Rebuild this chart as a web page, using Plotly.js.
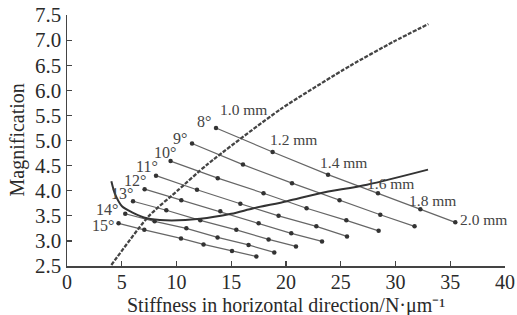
<!DOCTYPE html>
<html>
<head>
<meta charset="utf-8">
<script src="https://cdn.plot.ly/plotly-3.0.1.min.js"></script>
<style>html,body{margin:0;padding:0;background:#fff;}#chart{width:517px;height:315px;}</style>
</head>
<body>
<div id="chart"></div>
<script>
// Groove angle lines (points at 1.0,1.2,...,2.0 mm)
const angles = ["8°", "9°", "10°", "11°", "12°", "13°", "14°", "15°"];
const mmLabels = ["1.0 mm", "1.2 mm", "1.4 mm", "1.6 mm", "1.8 mm", "2.0 mm"];

const stiff8  = [13.61, 18.78, 23.84, 28.40, 32.27, 35.46];
const mag8    = [5.25, 4.77, 4.32, 3.95, 3.63, 3.37];
const stiff9  = [11.42, 16.07, 20.55, 24.89, 28.61, 31.74];
const mag9    = [4.94, 4.52, 4.15, 3.81, 3.52, 3.29];
const stiff10 = [9.46, 13.77, 17.95, 21.88, 25.51, 28.46];
const mag10   = [4.59, 4.25, 3.95, 3.65, 3.41, 3.20];
const stiff11 = [8.13, 11.87, 15.83, 19.32, 22.77, 25.57];
const mag11   = [4.30, 4.02, 3.74, 3.50, 3.29, 3.09];
const stiff12 = [7.09, 10.44, 14.00, 17.50, 20.48, 23.29];
const mag12   = [4.03, 3.81, 3.59, 3.35, 3.15, 2.99];
const stiff13 = [6.03, 9.07, 12.17, 15.46, 18.41, 20.91];
const mag13   = [3.79, 3.61, 3.41, 3.22, 3.03, 2.89];
const stiff14 = [5.32, 8.00, 10.90, 13.75, 16.58, 18.93];
const mag14   = [3.54, 3.39, 3.25, 3.07, 2.92, 2.77];
const stiff15 = [4.71, 7.06, 10.41, 12.47, 15.07, 17.29];
const mag15   = [3.35, 3.22, 3.05, 2.93, 2.80, 2.69];

// Dashed curve
const dashX = [4.05, 7.45, 10.19, 12.79, 19.48, 25.87, 29.83, 33.0];
const dashY = [2.52, 3.49, 4.02, 4.52, 5.62, 6.49, 6.97, 7.32];
// Solid curve
const solidX = [4.05, 4.41, 5.02, 5.94, 7.3, 9.0, 12.17, 15.0, 17.04, 20.1, 23.13, 27.4, 32.97];
const solidY = [4.19, 3.92, 3.69, 3.57, 3.45, 3.41, 3.44, 3.54, 3.65, 3.79, 3.95, 4.12, 4.42];

const xTicks = [0, 5, 10, 15, 20, 25, 30, 35, 40];
const yTicks = [2.5, 3.0, 3.5, 4.0, 4.5, 5.0, 5.5, 6.0, 6.5, 7.0, 7.5];
const xTitle = 'Stiffness in horizontal direction/N·μm⁻¹';
const yTitle = 'Magnification';

const lines = [
  [stiff8, mag8], [stiff9, mag9], [stiff10, mag10], [stiff11, mag11],
  [stiff12, mag12], [stiff13, mag13], [stiff14, mag14], [stiff15, mag15]
];

const traces = [];
lines.forEach((l, i) => {
  traces.push({
    x: l[0], y: l[1], type: 'scatter', mode: 'lines+markers', name: angles[i],
    line: {color: '#666', width: 1.2},
    marker: {color: '#333', size: 4.5},
    hoverinfo: 'x+y'
  });
});
traces.push({
  x: dashX, y: dashY, type: 'scatter', mode: 'lines',
  line: {color: '#444', width: 2.3, dash: '4px,1.5px', shape: 'spline', smoothing: 0.6}
});
traces.push({
  x: solidX, y: solidY, type: 'scatter', mode: 'lines',
  line: {color: '#333', width: 2, shape: 'spline', smoothing: 0.8}
});

const font = 'Liberation Serif, Times New Roman, serif';
const annotations = [];
const angShift = [[-3, 6], [-3, 5], [7, 9], [4, 9], [3, 9], [2, 8], [-5, 4], [-3, -2]];
lines.forEach((l, i) => {
  annotations.push({
    x: l[0][0], y: l[1][0], xref: 'x', yref: 'y', text: angles[i], showarrow: false,
    xanchor: 'right', yanchor: 'middle', xshift: angShift[i][0], yshift: angShift[i][1],
    font: {family: font, size: 16, color: '#444'}
  });
});
const mmShift = [[2, 18], [-5, 13], [-10, 12], [-13, 10], [-13, 9], [3, 3]];
mmLabels.forEach((t, j) => {
  annotations.push({
    x: stiff8[j], y: mag8[j], xref: 'x', yref: 'y', text: t, showarrow: false,
    xanchor: 'left', yanchor: 'middle', xshift: mmShift[j][0], yshift: mmShift[j][1],
    font: {family: font, size: 15.5, color: '#444'}
  });
});
// axis titles
annotations.push({
  x: 0.5, y: 0, xref: 'paper', yref: 'paper', text: xTitle, showarrow: false,
  xanchor: 'center', yanchor: 'middle', yshift: -39,
  font: {family: font, size: 20, color: '#2a2a2a'}
});
annotations.push({
  x: 0, y: 0.5, xref: 'paper', yref: 'paper', text: yTitle, showarrow: false, textangle: -90,
  xanchor: 'center', yanchor: 'middle', xshift: -50,
  font: {family: font, size: 20, color: '#2a2a2a'}
});

const layout = {
  width: 517, height: 315,
  margin: {l: 67, r: 12, t: 15, b: 49, pad: 0},
  paper_bgcolor: '#fff', plot_bgcolor: '#fff',
  showlegend: false,
  font: {family: font, color: '#333', size: 20},
  xaxis: {
    range: [0, 40], tickvals: xTicks, ticktext: xTicks.map(String),
    showgrid: false, zeroline: false, showline: true, linecolor: '#444', linewidth: 1.5,
    ticks: 'inside', ticklen: 5, tickwidth: 1.2, tickcolor: '#444',
    ticklabelstandoff: -3,
    tickfont: {family: font, size: 20, color: '#2a2a2a'}
  },
  yaxis: {
    range: [2.5, 7.5], tickvals: yTicks, ticktext: yTicks.map(v => v.toFixed(1)),
    showgrid: false, zeroline: false, showline: true, linecolor: '#444', linewidth: 1.5,
    ticks: 'inside', ticklen: 5, tickwidth: 1.2, tickcolor: '#444',
    tickfont: {family: font, size: 21, color: '#2a2a2a'}
  },
  annotations: annotations
};

Plotly.newPlot('chart', traces, layout, {displayModeBar: false, staticPlot: true});
</script>
</body>
</html>
